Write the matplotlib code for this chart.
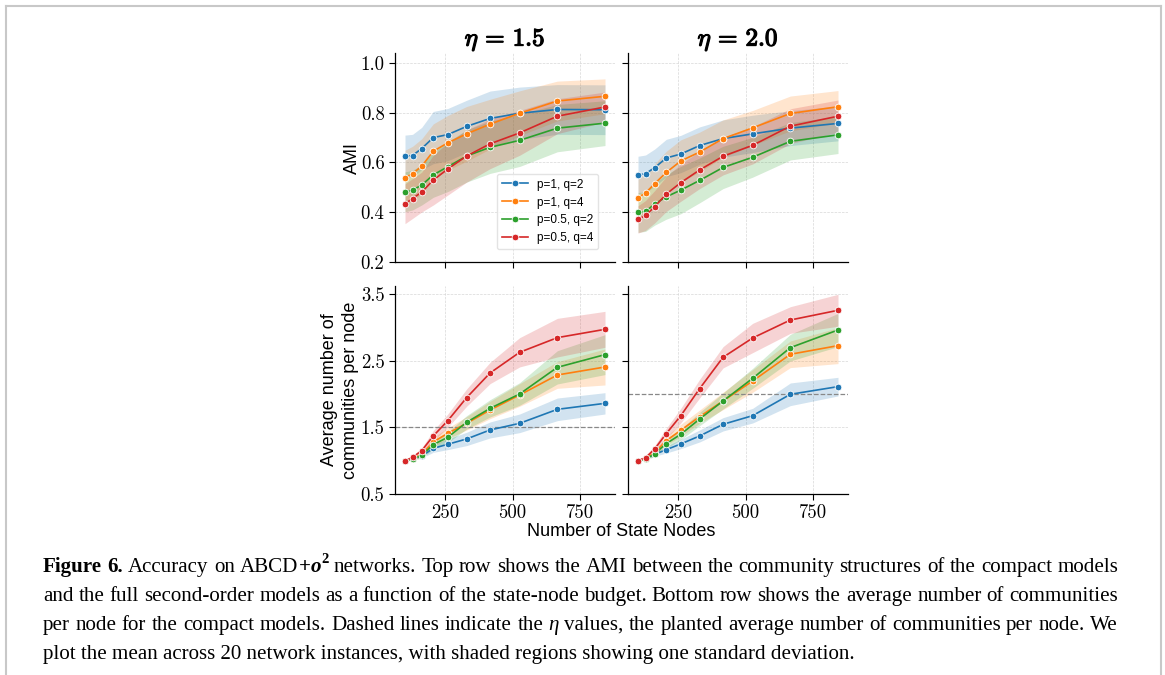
import matplotlib
matplotlib.use('Agg')
import matplotlib.pyplot as plt
import matplotlib.patheffects as pe
from matplotlib.transforms import IdentityTransform
from matplotlib.lines import Line2D
import numpy as np

# state-node budget (x) and series
budget = [100, 128, 162, 205, 259, 329, 416, 526, 666, 843]
labels = ['p=1, q=2', 'p=1, q=4', 'p=0.5, q=2', 'p=0.5, q=4']
colors = ['#1f77b4', '#ff7f0e', '#2ca02c', '#d62728']
etas = [1.5, 2.0]

# AMI, eta = 1.5
ami_15 = [
    [0.625, 0.628, 0.656, 0.700, 0.712, 0.745, 0.777, 0.798, 0.813, 0.812],
    [0.539, 0.555, 0.585, 0.645, 0.679, 0.715, 0.754, 0.798, 0.847, 0.866],
    [0.482, 0.489, 0.509, 0.550, 0.583, 0.626, 0.661, 0.689, 0.738, 0.758],
    [0.434, 0.455, 0.481, 0.529, 0.574, 0.626, 0.675, 0.719, 0.786, 0.823],
]
ami_15_sd = [
    [0.085, 0.085, 0.085, 0.105, 0.105, 0.105, 0.110, 0.105, 0.100, 0.100],
    [0.110, 0.110, 0.110, 0.110, 0.110, 0.110, 0.100, 0.090, 0.080, 0.070],
    [0.080, 0.080, 0.080, 0.090, 0.100, 0.105, 0.105, 0.105, 0.095, 0.090],
    [0.080, 0.080, 0.080, 0.100, 0.105, 0.105, 0.100, 0.090, 0.070, 0.060],
]
# AMI, eta = 2.0
ami_20 = [
    [0.550, 0.555, 0.579, 0.618, 0.634, 0.668, 0.696, 0.715, 0.738, 0.757],
    [0.459, 0.477, 0.515, 0.560, 0.606, 0.642, 0.696, 0.739, 0.797, 0.824],
    [0.399, 0.403, 0.433, 0.462, 0.489, 0.528, 0.580, 0.621, 0.685, 0.711],
    [0.371, 0.387, 0.422, 0.473, 0.519, 0.570, 0.625, 0.669, 0.746, 0.786],
]
ami_20_sd = [
    [0.075, 0.075, 0.075, 0.075, 0.075, 0.075, 0.075, 0.075, 0.070, 0.070],
    [0.080, 0.080, 0.080, 0.085, 0.085, 0.080, 0.075, 0.070, 0.070, 0.065],
    [0.080, 0.080, 0.085, 0.090, 0.095, 0.090, 0.085, 0.080, 0.075, 0.075],
    [0.055, 0.060, 0.065, 0.070, 0.075, 0.075, 0.075, 0.075, 0.070, 0.065],
]
# average number of communities per node, eta = 1.5
comm_15 = [
    [1.0, 1.026, 1.071, 1.186, 1.247, 1.327, 1.462, 1.562, 1.772, 1.862],
    [1.0, 1.026, 1.096, 1.282, 1.412, 1.562, 1.762, 1.988, 2.288, 2.408],
    [1.0, 1.021, 1.081, 1.242, 1.352, 1.577, 1.787, 2.003, 2.403, 2.594],
    [1.0, 1.051, 1.151, 1.372, 1.602, 1.948, 2.318, 2.629, 2.849, 2.974],
]
comm_15_sd = [
    [0.0, 0.01, 0.03, 0.06, 0.08, 0.10, 0.12, 0.14, 0.17, 0.16],
    [0.0, 0.02, 0.04, 0.07, 0.08, 0.10, 0.13, 0.17, 0.20, 0.27],
    [0.0, 0.02, 0.04, 0.07, 0.08, 0.10, 0.13, 0.17, 0.25, 0.30],
    [0.0, 0.02, 0.04, 0.08, 0.10, 0.13, 0.16, 0.22, 0.29, 0.27],
]
# average number of communities per node, eta = 2.0
comm_20 = [
    [1.0, 1.036, 1.096, 1.166, 1.252, 1.372, 1.547, 1.677, 1.998, 2.113],
    [1.0, 1.036, 1.121, 1.302, 1.457, 1.662, 1.898, 2.198, 2.599, 2.729],
    [1.0, 1.021, 1.106, 1.257, 1.397, 1.627, 1.898, 2.238, 2.699, 2.964],
    [1.0, 1.046, 1.177, 1.407, 1.677, 2.083, 2.554, 2.844, 3.114, 3.260],
]
comm_20_sd = [
    [0.0, 0.01, 0.03, 0.05, 0.07, 0.09, 0.10, 0.11, 0.17, 0.14],
    [0.0, 0.02, 0.04, 0.07, 0.09, 0.10, 0.13, 0.17, 0.20, 0.27],
    [0.0, 0.02, 0.04, 0.07, 0.08, 0.10, 0.12, 0.15, 0.20, 0.25],
    [0.0, 0.02, 0.05, 0.08, 0.11, 0.14, 0.16, 0.22, 0.20, 0.24],
]

# caption: each line is a list of words, each word a list of (text, style) pieces
R, B, BI, I, SUP = 'r', 'b', 'bi', 'i', 'sup'
caption_lines = [
    [[("Figure", B)], [("6.", B)], [("Accuracy", R)], [("on", R)],
     [("ABCD", R), ("+", B), ("o", BI), ("2", SUP)], [("networks.", R)]]
    + [[(w, R)] for w in "Top row shows the AMI between the community structures of the compact models".split()],
    [[(w, R)] for w in ("and the full second-order models as a function of the state-node budget. "
                        "Bottom row shows the average number of communities").split()],
    [[(w, R)] for w in "per node for the compact models. Dashed lines indicate the".split()]
    + [[("\u03b7", I)]]
    + [[(w, R)] for w in "values, the planted average number of communities per node. We".split()],
    [[("plot the mean across 20 network instances, with shaded regions "
       "showing one standard deviation.", R)]],
]
caption_justify = [True, True, True, False]

W, H = 1165, 675
figure = plt.figure(figsize=(W / 100, H / 100), dpi=100)
plt.rcParams['mathtext.fontset'] = 'cm'


def px_axes(x0, y0, x1, y1, **kw):
    return figure.add_axes([x0 / W, 1 - y1 / H, (x1 - x0) / W, (y1 - y0) / H], **kw)


ax_tl = px_axes(395, 53, 615, 262)
ax_tr = px_axes(628, 53, 848, 262, sharex=ax_tl, sharey=ax_tl)
ax_bl = px_axes(395, 286, 615, 494, sharex=ax_tl)
ax_br = px_axes(628, 286, 848, 494, sharex=ax_tl, sharey=ax_bl)

panels = [
    (ax_tl, ami_15, ami_15_sd),
    (ax_tr, ami_20, ami_20_sd),
    (ax_bl, comm_15, comm_15_sd),
    (ax_br, comm_20, comm_20_sd),
]

for axis, means, sds in panels:
    for mean, sd, color, label in zip(means, sds, colors, labels):
        mean = np.array(mean)
        sd = np.array(sd)
        axis.fill_between(budget, mean - sd, mean + sd, color=color, alpha=0.2, lw=0, zorder=1)
        axis.plot(budget, mean, color=color, lw=1.2, marker='o', ms=4.8,
                  mec='white', mew=0.6, label=label, zorder=2)
    axis.grid(True, ls='--', lw=0.5, color='#d8d8d8')
    axis.set_axisbelow(True)
    for side in ['top', 'right']:
        axis.spines[side].set_visible(False)
    for side in ['left', 'bottom']:
        axis.spines[side].set_linewidth(0.9)
    axis.tick_params(labelsize=13.5, labelfontfamily='cmr10', length=4, width=0.8)

for axis, eta in zip([ax_bl, ax_br], etas):
    axis.axhline(eta, color='#888888', ls='--', lw=0.9, zorder=1.5)

ax_tl.set_ylim(0.2, 1.04)
ax_tl.set_yticks([0.2, 0.4, 0.6, 0.8, 1.0])
ax_tl.set_yticklabels(['0.2', '0.4', '0.6', '0.8', '1.0'])
ax_bl.set_ylim(0.5, 3.625)
ax_bl.set_yticks([0.5, 1.5, 2.5, 3.5])
ax_bl.set_yticklabels(['0.5', '1.5', '2.5', '3.5'])
ax_bl.set_xticks([250, 500, 750])
ax_bl.set_xticklabels(['250', '500', '750'])

for axis in [ax_tl, ax_tr]:
    axis.tick_params(labelbottom=False)
for axis in [ax_tr, ax_br]:
    axis.tick_params(labelleft=False)

for axis, eta in zip([ax_tl, ax_tr], etas):
    axis.set_title(r'$\eta\,=\,\mathbf{%.1f}$' % eta, fontsize=18, pad=3,
                   path_effects=[pe.withStroke(linewidth=0.9, foreground='black')])

ax_tl.set_ylabel('AMI', fontsize=13, family='Liberation Sans', labelpad=0)
ax_bl.set_ylabel('Average number of\ncommunities per node', fontsize=13,
                 family='Liberation Sans', labelpad=1, linespacing=1.3)
figure.text(621 / W, 1 - 531 / H, 'Number of State Nodes', fontsize=13,
            family='Liberation Sans', ha='center', va='center')

ax_tl.legend(loc='lower right', bbox_to_anchor=(0.923, 0.062), borderaxespad=0,
             prop={'family': 'Liberation Sans', 'size': 8.5}, handlelength=2.2,
             labelspacing=0.5, framealpha=0.8, edgecolor='#dddddd')

# page frame
frame_kw = dict(color='#c8c8c8', lw=1.5, transform=IdentityTransform())
figure.add_artist(Line2D([6, 6], [-5, H - 6], **frame_kw))
figure.add_artist(Line2D([6, W - 4], [H - 6, H - 6], **frame_kw))
figure.add_artist(Line2D([W - 4, W - 4], [-5, H - 6], **frame_kw))

# caption, placed word by word and justified like the page
renderer = figure.canvas.get_renderer()
cap_size = 15.1
cap_px = cap_size * 100 / 72
space = cap_px * 0.25
styles = {
    R: dict(weight='normal', style='normal'),
    B: dict(weight='bold', style='normal'),
    BI: dict(weight='bold', style='italic'),
    I: dict(weight='normal', style='italic'),
    SUP: dict(weight='bold', style='normal'),
}


def advance(text, size, style):
    # pen advance of a string, measured between two bars so ink bearings cancel
    probe = figure.text(0, 0, '|' + text + '|', fontsize=size, family='Liberation Serif', **style)
    bars = figure.text(0, 0, '||', fontsize=size, family='Liberation Serif', **style)
    width = probe.get_window_extent(renderer).width - bars.get_window_extent(renderer).width
    probe.remove()
    bars.remove()
    return width


baselines = [572, 601, 630, 659]
left, right = 43, 1118
for words, base, justify in zip(caption_lines, baselines, caption_justify):
    placed = []
    for word in words:
        pieces = []
        for text, kind in word:
            size = cap_size * 0.7 if kind == SUP else cap_size
            rise = cap_px * 0.42 if kind == SUP else 0
            t = figure.text(0, H - base + rise, text, transform=IdentityTransform(),
                            fontsize=size, family='Liberation Serif', va='baseline',
                            ha='left', **styles[kind])
            pieces.append((t, advance(text, size, styles[kind])))
        placed.append(pieces)
    natural = sum(w for pieces in placed for _, w in pieces) + space * (len(placed) - 1)
    gap = space
    if justify and len(placed) > 1:
        gap = space + (right - left - natural) / (len(placed) - 1)
    x = left
    for pieces in placed:
        for t, w in pieces:
            t.set_x(x)
            x += w
        x += gap

figure.savefig('out.png', dpi=100)
